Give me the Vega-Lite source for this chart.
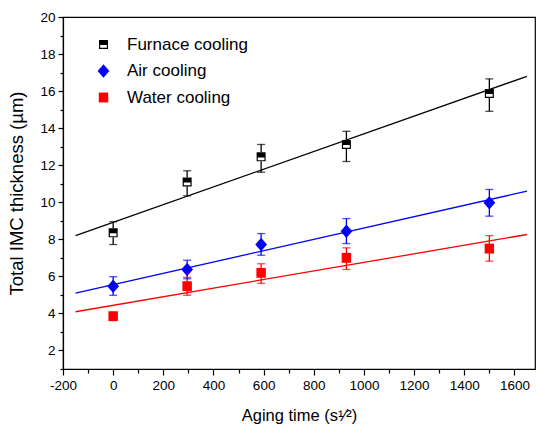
{
  "$schema": "https://vega.github.io/schema/vega-lite/v6.json",
  "width": 472,
  "height": 352,
  "autosize": "none",
  "padding": {"left": 63, "top": 17, "right": 1, "bottom": 58},
  "config": {
    "font": "Liberation Sans",
    "view": {"stroke": "#000", "strokeWidth": 1.2},
    "axis": {"grid": false, "domainColor": "#000", "tickColor": "#000", "domainWidth": 1.2, "tickWidth": 1.2, "labelColor": "#000", "titleColor": "#000", "titleFontWeight": "normal", "labelFont": "Liberation Sans", "titleFont": "Liberation Sans"},
    "legend": {"orient": "none", "legendX": 32, "legendY": 19, "padding": 0, "labelFontSize": 17, "labelFont": "Liberation Sans", "labelColor": "#000", "symbolSize": 81, "symbolStrokeWidth": 0, "rowPadding": 8.5, "labelOffset": 15, "symbolOpacity": 1, "titleFontSize": 0}
  },
  "datasets": {
    "pts": [
      {"c": "Furnace cooling", "t": 0, "v": 8.35, "lo": 7.72, "hi": 8.95},
      {"c": "Furnace cooling", "t": 295, "v": 11.1, "lo": 10.35, "hi": 11.7},
      {"c": "Furnace cooling", "t": 590, "v": 12.45, "lo": 11.62, "hi": 13.12},
      {"c": "Furnace cooling", "t": 930, "v": 13.12, "lo": 12.2, "hi": 13.83},
      {"c": "Furnace cooling", "t": 1500, "v": 15.87, "lo": 14.91, "hi": 16.66},
      {"c": "Air cooling", "t": 0, "v": 5.47, "lo": 4.98, "hi": 5.98},
      {"c": "Air cooling", "t": 295, "v": 6.37, "lo": 5.87, "hi": 6.87},
      {"c": "Air cooling", "t": 590, "v": 7.72, "lo": 7.14, "hi": 8.31},
      {"c": "Air cooling", "t": 930, "v": 8.44, "lo": 7.77, "hi": 9.12},
      {"c": "Air cooling", "t": 1500, "v": 9.97, "lo": 9.25, "hi": 10.69},
      {"c": "Water cooling", "t": 0, "v": 3.85, "lo": 3.72, "hi": 3.98},
      {"c": "Water cooling", "t": 295, "v": 5.47, "lo": 4.98, "hi": 5.95},
      {"c": "Water cooling", "t": 590, "v": 6.19, "lo": 5.62, "hi": 6.68},
      {"c": "Water cooling", "t": 930, "v": 7.0, "lo": 6.37, "hi": 7.54},
      {"c": "Water cooling", "t": 1500, "v": 7.5, "lo": 6.82, "hi": 8.2}
    ],
    "fits": [
      {"c": "Furnace cooling", "t": -150, "v": 8.2},
      {"c": "Furnace cooling", "t": 1650, "v": 16.8},
      {"c": "Air cooling", "t": -150, "v": 5.09},
      {"c": "Air cooling", "t": 1650, "v": 10.6},
      {"c": "Water cooling", "t": -150, "v": 4.09},
      {"c": "Water cooling", "t": 1650, "v": 8.26}
    ]
  },
  "encoding": {
    "x": {
      "field": "t", "type": "quantitative",
      "scale": {"domain": [-200, 1682], "nice": false, "zero": false},
      "axis": {
        "title": "Aging time (s¹⁄²)",
        "values": [-200, -100, 0, 100, 200, 300, 400, 500, 600, 700, 800, 900, 1000, 1100, 1200, 1300, 1400, 1500, 1600],
        "labelExpr": "datum.value % 200 == 0 ? '' + datum.value : ''",
        "tickSize": {"condition": {"test": "datum.value % 200 != 0", "value": 4}, "value": 6},
        "labelFontSize": 13.5, "labelPadding": 3, "labelFlush": false, "labelOverlap": false,
        "titleFontSize": 16.5, "titlePadding": 16
      }
    },
    "y": {"field": "v", "type": "quantitative", "scale": {"domain": [1, 20], "nice": false, "zero": false},
      "axis": {"title": "Total IMC thickness (µm)", "values": [1, 2, 3, 4, 5, 6, 7, 8, 9, 10, 11, 12, 13, 14, 15, 16, 17, 18, 19, 20],
        "labelExpr": "datum.value % 2 == 0 ? '' + datum.value : ''",
        "tickSize": {"condition": {"test": "datum.value % 2 != 0", "value": 3}, "value": 5},
        "labelFontSize": 13.5, "labelPadding": 3, "labelOverlap": false, "titleFontSize": 18.5, "titlePadding": 13}},
    "color": {"field": "c", "type": "nominal", "title": null, "scale": {"domain": ["Furnace cooling", "Air cooling", "Water cooling"], "range": ["#000000", "#0000ff", "#ff0000"]}}
  },
  "layer": [
    {
      "data": {"name": "fits"},
      "mark": {"type": "line", "strokeWidth": 1.3},
      "encoding": {"detail": {"field": "c"}}
    },
    {
      "data": {"name": "pts"},
      "mark": {"type": "rule", "strokeWidth": 1.3},
      "encoding": {
        "y": {"field": "lo", "type": "quantitative", "title": "Total IMC thickness (µm)"},
        "y2": {"field": "hi"}
      }
    },
    {
      "data": {"name": "pts"},
      "mark": {"type": "tick", "orient": "horizontal", "size": 8, "thickness": 1.3},
      "encoding": {
        "y": {"field": "lo", "type": "quantitative", "title": "Total IMC thickness (µm)"}
      }
    },
    {
      "data": {"name": "pts"},
      "mark": {"type": "tick", "orient": "horizontal", "size": 8, "thickness": 1.3},
      "encoding": {
        "y": {"field": "hi", "type": "quantitative", "title": "Total IMC thickness (µm)"}
      }
    },
    {
      "data": {"name": "pts"},
      "transform": [{"filter": "datum.c == 'Furnace cooling'"}],
      "mark": {"type": "point", "shape": "square", "filled": true, "fill": "#ffffff", "size": 81, "opacity": 1},
      "encoding": {"color": {"value": "#ffffff"}}
    },
    {
      "data": {"name": "pts"},
      "mark": {"type": "point", "filled": true, "size": 81, "opacity": 1, "strokeWidth": 0},
      "encoding": {
        "shape": {"field": "c", "type": "nominal", "title": null,
          "scale": {"domain": ["Furnace cooling", "Air cooling", "Water cooling"], "range": ["M-1,-1H1V1H-1Z M-0.74,0.12V0.74H0.74V0.12Z", "M0,-1.5L1.3,0L0,1.5L-1.3,0Z", "M-1.05,-1.1H1.05V1.1H-1.05Z"]}}
      }
    }
  ]
}
